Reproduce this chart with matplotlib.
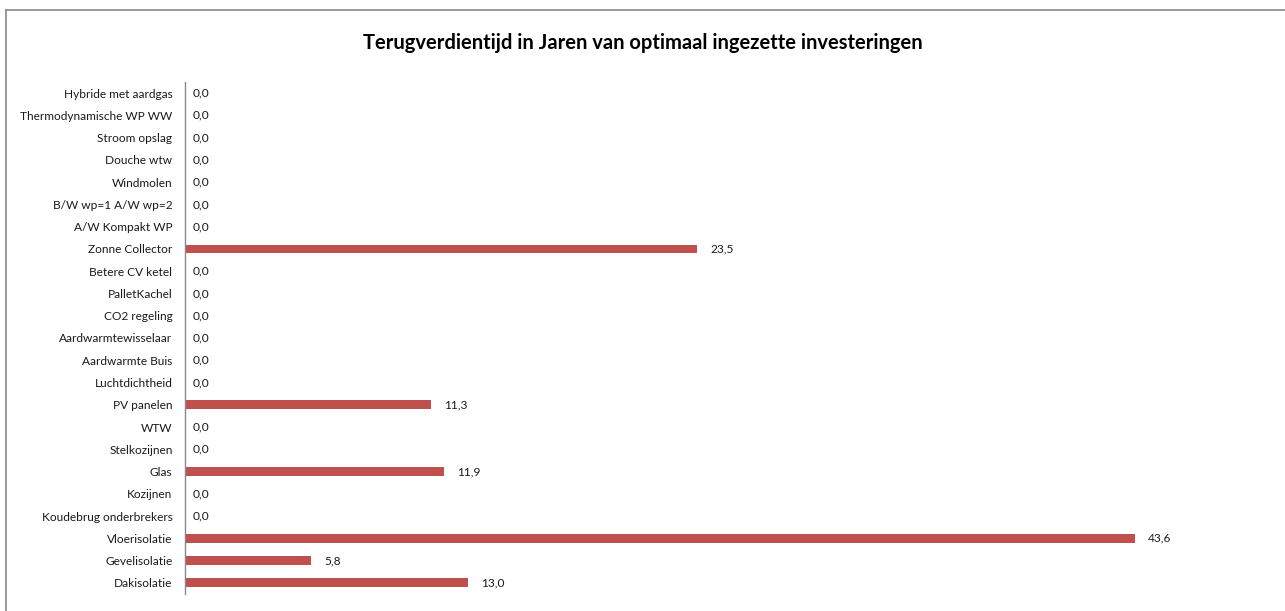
import matplotlib.pyplot as plt
from matplotlib.lines import Line2D

categories = ['Dakisolatie', 'Gevelisolatie', 'Vloerisolatie', 'Koudebrug onderbrekers',
              'Kozijnen', 'Glas', 'Stelkozijnen', 'WTW', 'PV panelen', 'Luchtdichtheid',
              'Aardwarmte Buis', 'Aardwarmtewisselaar', 'CO2 regeling', 'PalletKachel',
              'Betere CV ketel', 'Zonne Collector', 'A/W Kompakt WP', 'B/W wp=1 A/W wp=2',
              'Windmolen', 'Douche wtw', 'Stroom opslag', 'Thermodynamische WP WW',
              'Hybride met aardgas']
values = [13.0, 5.8, 43.6, 0.0, 0.0, 11.9, 0.0, 0.0, 11.3, 0.0,
          0.0, 0.0, 0.0, 0.0, 0.0, 23.5, 0.0, 0.0, 0.0, 0.0, 0.0, 0.0, 0.0]
title = 'Terugverdientijd in Jaren van optimaal ingezette investeringen'

plt.rcParams['font.family'] = ['Lato', 'DejaVu Sans']

W, H = 1285, 611
fig = plt.figure(figsize=(W / 100, H / 100), dpi=100)
ax = fig.add_axes([185 / W, 1 - 594 / H, (1274 - 185) / W, (594 - 82) / H])

y = list(range(len(categories)))
ax.barh(y, values, height=0.4, color='#C0504D')
for yi, v in zip(y, values):
    off = 9.5 if v > 0 else 5.5
    ax.annotate(f'{v:.1f}'.replace('.', ','), xy=(v, yi), xytext=(off, 0),
                textcoords='offset points', va='center', ha='left',
                fontsize=8.6, color='#1a1a1a')

ax.set_xlim(0, 50)
ax.set_ylim(-0.5, len(categories) - 0.5)
ax.set_yticks(y)
ax.set_yticklabels(categories, fontsize=8.6, color='#1a1a1a')
ax.tick_params(axis='y', length=0, pad=9)
ax.set_xticks([])
for s in ['top', 'right', 'bottom']:
    ax.spines[s].set_visible(False)
ax.spines['left'].set_color('#888888')
ax.spines['left'].set_linewidth(1.0)

fig.text(0.5, 1 - 43 / H, title, ha='center', va='center', fontsize=14.5, fontweight='bold')

# chart frame (left and top edges visible)
fig.add_artist(Line2D([5.5 / W, 5.5 / W], [0, 1 - 10 / H], color='#888888', lw=1.2,
                      transform=fig.transFigure))
fig.add_artist(Line2D([5.5 / W, 1], [1 - 10 / H, 1 - 10 / H], color='#888888', lw=1.2,
                      transform=fig.transFigure))

fig.savefig('out.png', dpi=100)
